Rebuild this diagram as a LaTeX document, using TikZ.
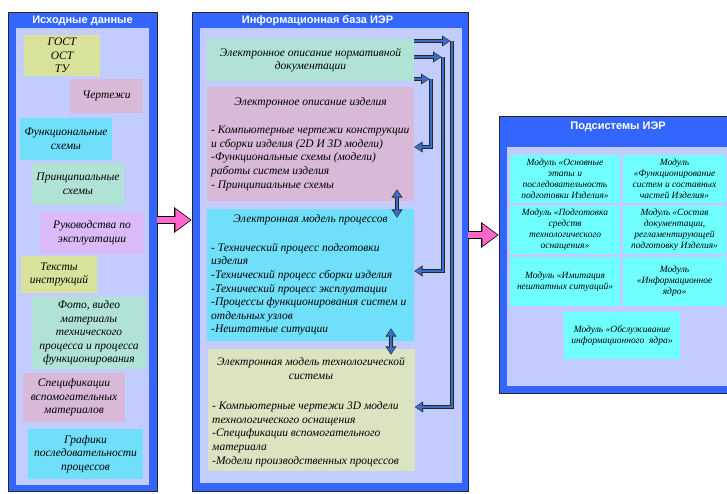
\documentclass[tikz,border=0pt]{standalone}
\usepackage{fontspec}
\setmainfont{Liberation Serif}
\setsansfont{Liberation Sans}
\usetikzlibrary{arrows.meta}

\definecolor{panelBlue}{HTML}{3366FF}
\definecolor{areaLilac}{HTML}{C3CCFF}
\definecolor{greenFill}{HTML}{D9E29B}
\definecolor{mauveFill}{HTML}{D8B9D7}
\definecolor{cyanFill}{HTML}{70E0FA}
\definecolor{tealFill}{HTML}{B0E2D6}
\definecolor{lilacFill}{HTML}{DABAF8}
\definecolor{paleFill}{HTML}{DCE3C1}
\definecolor{modCyan}{HTML}{6FFFFF}
\definecolor{arrowPink}{HTML}{FF66CC}
\definecolor{linkBlue}{HTML}{3A6EC8}

\begin{document}
\begin{tikzpicture}
[x=1pt,y=-1pt,
  panelDecorate/.style={shape=rectangle,inner sep=0pt,draw=black!85,line width=0.6pt,fill=panelBlue},
  areaDecorate/.style={shape=rectangle,inner sep=0pt,fill=areaLilac},
  titleDecorate/.style={text=white,font=\sffamily\bfseries\fontsize{11}{13}\selectfont},
  boxDecorate/.style={shape=rectangle,inner sep=1pt,align=center,font=\itshape\fontsize{11.5}{13.6}\selectfont},
  listDecorate/.style={inner sep=0pt,align=left,anchor=north west,font=\itshape\fontsize{11.5}{13.6}\selectfont},
  modDecorate/.style={shape=rectangle,inner sep=1pt,align=center,fill=modCyan,font=\itshape\fontsize{9.5}{11}\selectfont},
  fatArrow/.style={draw=arrowPink,line width=6pt,-{Triangle[length=15pt,width=21pt]},shorten >=1.3pt,
    preaction={draw=black,line width=7.6pt,shorten >=0pt,-{Triangle[length=17.5pt,width=24.5pt]}}},
  linkArrow/.style={draw=linkBlue,line width=1.8pt,-{Triangle[length=6.5pt,width=7.5pt]},shorten >=0.9pt,
    preaction={draw=black!85,line width=3.6pt,shorten >=0pt,-{Triangle[length=8.5pt,width=10.5pt]}}},
  linkBoth/.style={draw=linkBlue,line width=1.8pt,{Triangle[length=6.5pt,width=7.5pt]}-{Triangle[length=6.5pt,width=7.5pt]},
    shorten >=0.9pt,shorten <=0.9pt,
    preaction={draw=black!85,line width=3.6pt,shorten >=0pt,shorten <=0pt,
      {Triangle[length=8.5pt,width=10.5pt]}-{Triangle[length=8.5pt,width=10.5pt]}}}]
\useasboundingbox (0,0) rectangle (727,493);
\clip (0,0) rectangle (727,493);

%% panels
\node (src) at (82.5,251.5) [panelDecorate,minimum width=149,minimum height=479] {};
\node (srcArea) at (82.5,256.5) [areaDecorate,minimum width=133,minimum height=457] {};
\node (srcTitle) at (82.5,20.5) [titleDecorate] {Исходные данные};

\node (base) at (330,251.5) [panelDecorate,minimum width=276,minimum height=479] {};
\node (baseArea) at (331,255.5) [areaDecorate,minimum width=262,minimum height=455] {};
\node (baseTitle) at (317.5,20.5) [titleDecorate] {Информационная база ИЭР};

\node (sub) at (619.5,254.5) [panelDecorate,minimum width=241,minimum height=277] {};
\node (subArea) at (623.5,266.5) [areaDecorate,minimum width=233,minimum height=239] {};
\node (subTitle) at (618,127) [titleDecorate] {Подсистемы ИЭР};

%% source documents
\foreach \nodename/\x/\y/\w/\h/\boxcolor/\nodetext in {
  gost/62/55.5/76/41/greenFill/{ГОСТ\\ОСТ\\ТУ},
  drawings/106.5/96/73/34/mauveFill/{Чертежи},
  func/66/139/92/42/cyanFill/{Функциональные\\схемы},
  princ/78/184/92/42/tealFill/{Принципиальные\\схемы},
  manual/92/233/104/42/lilacFill/{Руководства по\\эксплуатации},
  instr/59/274.5/76/37/greenFill/{Тексты\\инструкций},
  photo/89/333/114/72/tealFill/{Фото, видео\\материалы\\технического\\процесса и процесса\\функционирования},
  spec/74/397.5/102/49/mauveFill/{Спецификации\\вспомогательных\\материалов},
  sched/85.5/454/115/50/cyanFill/{Графики\\последовательности\\процессов}}
{
  \node (\nodename) at (\x,\y) [boxDecorate,fill=\boxcolor,minimum width=\w,minimum height=\h] {\nodetext};
}

%% information base
\node (norm) at (310.5,60) [boxDecorate,fill=tealFill,minimum width=207,minimum height=42]
  {Электронное описание нормативной\\документации};
\node (desc) at (310.5,144) [boxDecorate,fill=mauveFill,minimum width=207,minimum height=114] {};
\node (proc) at (310.5,275) [boxDecorate,fill=cyanFill,minimum width=207,minimum height=132] {};
\node (tech) at (311,410) [boxDecorate,fill=paleFill,minimum width=207,minimum height=122] {};

\node (descTitle) at (310.5,103) [boxDecorate] {Электронное описание изделия};
\node (descList) at (211,126) [listDecorate]
  {- Компьютерные чертежи конструкции\\и сборки изделия (2D И 3D модели)\\-Функциональные схемы (модели)\\
   работы систем изделия\\- Принципиальные схемы};
\node (procTitle) at (310.5,220) [boxDecorate] {Электронная модель процессов};
\node (procList) at (211,243) [listDecorate]
  {- Технический процесс подготовки\\изделия\\-Технический процесс сборки изделия\\
   -Технический процесс эксплуатации\\-Процессы функционирования систем и\\отдельных узлов\\-Нештатные ситуации};
\node (techTitle) at (311,368.5) [boxDecorate] {Электронная модель технологической\\системы};
\node (techList) at (212,401.5) [listDecorate]
  {- Компьютерные чертежи 3D модели\\технологического оснащения\\-Спецификации вспомогательного\\
   материала\\-Модели производственных процессов};

%% subsystems
\foreach \nodename/\x/\y/\w/\h/\nodetext in {
  modStages/565/179/110/48/{Модуль «Основные\\этапы и\\последовательность\\подготовки Изделия»},
  modSystems/674.5/179/103/48/{Модуль\\«Функционирование\\систем и составных\\частей Изделия»},
  modTooling/565/230/110/48/{Модуль «Подготовка\\средств\\технологического\\оснащения»},
  modDocs/674.5/230/103/48/{Модуль «Состав\\документации,\\регламентирующей\\подготовку Изделия»},
  modFaults/565/281.5/110/49/{Модуль «Имитация\\нештатных ситуаций»},
  modCore/674.5/281.5/103/49/{Модуль\\«Информационное\\ядро»},
  modService/622/335.5/116/47/{Модуль «Обслуживание\\информационного~~ядра»}}
{
  \node (\nodename) at (\x,\y) [modDecorate,minimum width=\w,minimum height=\h] {\nodetext};
}

%% links inside the base
\coordinate (c1) at (452,41);
\coordinate (c2) at (443,57);
\coordinate (c3) at (431,79);
\draw[linkArrow] (norm.east |- c1) -- ([xshift=-1.5pt]c1);
\draw[linkArrow] (c1) |- (tech.east |- 0,407);
\draw[linkArrow] (norm.east |- c2) -- ([xshift=-1.5pt]c2);
\draw[linkArrow] (c2) |- (proc.east |- 0,271);
\draw[linkArrow] (norm.east |- c3) -- ([xshift=-1.5pt]c3);
\draw[linkArrow] (c3) |- (desc.east |- 0,147);
\draw[linkBoth] ([xshift=86.5pt,yshift=12pt]desc.south) -- ([xshift=86.5pt,yshift=-9pt]proc.north);
\draw[linkBoth] ([xshift=80.5pt,yshift=13pt]proc.south) -- ([xshift=80pt,yshift=-6pt]tech.north);

%% flow between panels
\draw[fatArrow] (src.east |- 0,220) -- (base.west |- 0,220);
\draw[fatArrow] (base.east |- 0,235) -- (sub.west |- 0,235);
\end{tikzpicture}
\end{document}
